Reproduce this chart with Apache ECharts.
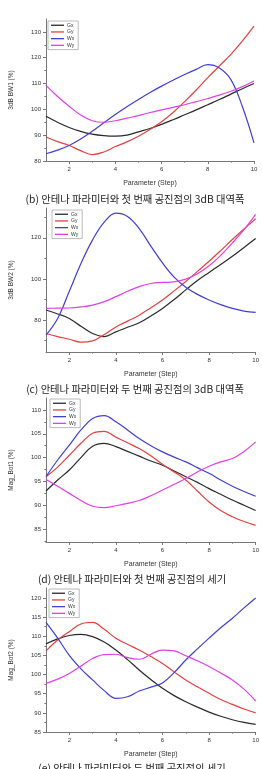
<!DOCTYPE html>
<html>
<head>
<meta charset="utf-8">
<script src="https://cdn.jsdelivr.net/npm/echarts@6/dist/echarts.min.js"></script>
<style>
  html, body { margin: 0; padding: 0; background: #fff; }
  #chart { width: 262px; height: 769px; }
</style>
</head>
<body>
<div id="chart"></div>
<script>
// parameter steps shared by all four panels
const steps = [1, 1.5, 2, 2.5, 3, 3.5, 4, 4.5, 5, 5.5, 6, 6.5, 7, 7.5, 8, 8.5, 9, 9.5, 10];
const seriesNames = ['Gx', 'Gy', 'Wx', 'Wy'];
const xTicks = [2, 4, 6, 8, 10];
const xMinor = [3, 5, 7, 9];

// (b) 3dB BW1
const bw1Gx = [97.3, 95, 93, 91.5, 90.4, 89.8, 89.6, 90, 91.3, 92.6, 94.2, 96, 97.9, 99.8, 101.8, 103.8, 105.9, 108, 110];
const bw1Gy = [89.3, 87.5, 86, 84, 82.5, 83.5, 85.6, 87.4, 89.6, 92.2, 95.2, 98.8, 103, 107.5, 112.3, 116.8, 121.3, 126.5, 132.2];
const bw1Wx = [82.8, 84.2, 86, 88.5, 91.5, 94.8, 98, 101, 103.8, 106.5, 109, 111.3, 113.5, 115.5, 117.3, 116, 111.5, 101, 87];
const bw1Wy = [109.3, 105, 101.2, 97.8, 95.6, 95, 95.6, 96.6, 97.6, 98.8, 99.8, 100.8, 101.8, 103, 104.2, 105.5, 107, 108.8, 111];
const bw1Ticks = [80, 90, 100, 110, 120, 130];
const bw1Minor = [85, 95, 105, 115, 125];

// (c) 3dB BW2
const bw2Gx = [84.9, 83, 80.8, 77, 73.5, 72, 74.3, 76.5, 78.7, 82, 85.7, 90, 94.7, 99.3, 103.2, 107, 111, 115.3, 119.7];
const bw2Gy = [73.5, 72, 70.7, 69.3, 69.9, 73, 76.7, 79.5, 82.4, 86, 89.8, 94.2, 98.8, 103.7, 108.6, 113.8, 119.2, 124.3, 129.3];
const bw2Wx = [72.7, 80.8, 94, 107.5, 119, 127.6, 132, 130.4, 124.5, 116, 107.8, 100.9, 96, 92.5, 89.8, 87.5, 85.7, 84.4, 83.8];
const bw2Wy = [85.7, 85.8, 85.9, 86.4, 87.3, 89, 91.4, 94, 96.3, 97.8, 98.3, 98.6, 99.9, 102.5, 106.4, 111.5, 117.5, 124, 131.4];
const bw2Ticks = [80, 100, 120];
const bw2Minor = [70, 90, 110, 130];

// (d) Mag_Bot1
const mb1Gx = [93, 95.3, 97.4, 100, 102.4, 103, 102.3, 101.3, 100.3, 99.3, 98.4, 97.2, 96, 94.8, 93.5, 92.3, 91.1, 90, 88.9];
const mb1Gy = [96, 98, 100.5, 103, 105.1, 105.5, 104.3, 103.1, 101.9, 100.4, 98.6, 97, 95.3, 93, 90.7, 88.9, 87.6, 86.6, 85.8];
const mb1Wx = [96, 99.5, 102.6, 105.8, 108.2, 108.8, 107.5, 105.8, 104, 102.5, 101.2, 100.1, 99.1, 97.9, 96.7, 95.3, 94, 92.9, 91.9];
const mb1Wy = [95.4, 94, 92.5, 91, 89.8, 89.5, 89.9, 90.4, 91, 92, 93.2, 94.4, 95.6, 97, 98.2, 99.1, 99.8, 101.3, 103.3];
const mb1Ticks = [85, 90, 95, 100, 105, 110];
const mb1Minor = [82.5, 87.5, 92.5, 97.5, 102.5, 107.5];

// (e) Mag_Bot2
const mb2Gx = [108, 109.3, 110.2, 110.5, 109.9, 108.5, 106.4, 103.9, 101.2, 98.7, 96.4, 94.5, 92.9, 91.5, 90.2, 89.1, 88.2, 87.5, 87];
const mb2Gy = [106.2, 109, 111.2, 113.2, 113.6, 111.8, 109.5, 107.9, 106.4, 104.7, 102.9, 100.7, 98.6, 96.8, 95.1, 93.5, 92.2, 91, 90];
const mb2Wx = [113.6, 109.5, 105, 101.5, 98.6, 95.8, 93.8, 94.2, 95.7, 96.7, 97.8, 100.5, 103.8, 106.7, 109.5, 112.2, 114.7, 117.4, 120];
const mb2Wy = [97.7, 98.8, 100.3, 102.2, 104.2, 105.2, 105.3, 104.4, 104, 105.3, 106.4, 106.2, 104.9, 103.6, 102.1, 100.4, 98.6, 96.2, 93.1];
const mb2Ticks = [85, 90, 95, 100, 105, 110, 115, 120];
const mb2Minor = [87.5, 92.5, 97.5, 102.5, 107.5, 112.5, 117.5];

const yNames = ['3dB BW1 (%)', '3dB BW2 (%)', 'Mag_Bot1 (%)', 'Mag_Bot2 (%)'];
const captions = [
  '(b) 안테나 파라미터와 첫 번째 공진점의 3dB 대역폭',
  '(c) 안테나 파라미터와 두 번째 공진점의 3dB 대역폭',
  '(d) 안테나 파라미터와 첫 번째 공진점의 세기',
  '(e) 안테나 파라미터와 두 번째 공진점의 세기'
];

const colors = ['#2a2a2a', '#e5403f', '#3f3fd6', '#e23fe6'];
const axisColor = '#777';
const labelFont = 'Liberation Sans, Arial, sans-serif';

const panels = [
  { grid: { left: 43, top: 19, width: 211, height: 142 }, yMin: 80, yMax: 135, ticks: bw1Ticks, minor: bw1Minor,
    lines: [bw1Gx, bw1Gy, bw1Wx, bw1Wy], legend: { left: 48, top: 21 }, cap: { x: 135, y: 199 } },
  { grid: { left: 44, top: 208, width: 213, height: 144 }, yMin: 64.5, yMax: 134.5, ticks: bw2Ticks, minor: bw2Minor,
    lines: [bw2Gx, bw2Gy, bw2Wx, bw2Wy], legend: { left: 52, top: 210 }, cap: { x: 135, y: 389 } },
  { grid: { left: 44, top: 398, width: 213, height: 144 }, yMin: 82.3, yMax: 112.5, ticks: mb1Ticks, minor: mb1Minor,
    lines: [mb1Gx, mb1Gy, mb1Wx, mb1Wy], legend: { left: 50, top: 399 }, cap: { x: 132, y: 579 } },
  { grid: { left: 43, top: 588, width: 214, height: 144 }, yMin: 85, yMax: 122.6, ticks: mb2Ticks, minor: mb2Minor,
    lines: [mb2Gx, mb2Gy, mb2Wx, mb2Wy], legend: { left: 49, top: 589 }, cap: { x: 132, y: 768 } }
];

const grid = [], xAxis = [], yAxis = [], series = [], legend = [], graphic = [];

panels.forEach((p, i) => {
  grid.push(p.grid);
  // main x axis
  xAxis.push({
    type: 'value', gridIndex: i, min: 1, max: 10, position: 'bottom',
    name: 'Parameter (Step)', nameLocation: 'middle', nameGap: 19,
    nameTextStyle: { fontSize: 7, color: '#333', fontFamily: labelFont },
    axisLine: { lineStyle: { color: axisColor, width: 1 } },
    axisTick: { inside: false, length: 3, customValues: xTicks, lineStyle: { color: axisColor } },
    axisLabel: { customValues: xTicks, fontSize: 6, color: '#333', margin: 5, fontFamily: labelFont },
    splitLine: { show: false }
  });
  // minor x ticks
  xAxis.push({
    type: 'value', gridIndex: i, min: 1, max: 10, position: 'bottom',
    axisLine: { show: false },
    axisTick: { inside: false, length: 1.6, customValues: xMinor, lineStyle: { color: axisColor } },
    axisLabel: { show: false, customValues: xMinor },
    splitLine: { show: false }
  });
  yAxis.push({
    type: 'value', gridIndex: i, min: p.yMin, max: p.yMax, position: 'left',
    name: yNames[i], nameLocation: 'middle', nameGap: 31, nameRotate: 90,
    nameTextStyle: { fontSize: 6.5, color: '#333', fontFamily: labelFont },
    axisLine: { show: true, lineStyle: { color: axisColor, width: 1 } },
    axisTick: { show: true, inside: false, length: 3, customValues: p.ticks, lineStyle: { color: axisColor } },
    axisLabel: { customValues: p.ticks, fontSize: 6, color: '#333', margin: 5, fontFamily: labelFont },
    splitLine: { show: false }
  });
  yAxis.push({
    type: 'value', gridIndex: i, min: p.yMin, max: p.yMax, position: 'left',
    axisLine: { show: false },
    axisTick: { show: true, inside: false, length: 1.6, customValues: p.minor, lineStyle: { color: axisColor } },
    axisLabel: { show: false, customValues: p.minor },
    splitLine: { show: false }
  });

  p.lines.forEach((vals, k) => {
    series.push({
      name: seriesNames[k], type: 'line', xAxisIndex: i * 2, yAxisIndex: i * 2,
      data: steps.map((s, j) => [s, vals[j]]),
      smooth: 0.4, showSymbol: false, symbol: 'none',
      lineStyle: { color: colors[k], width: 1.2 },
      itemStyle: { color: colors[k] },
      z: 3 + k
    });
  });

  legend.push({
    data: seriesNames, left: p.legend.left, top: p.legend.top, orient: 'vertical',
    icon: 'rect', itemWidth: 13, itemHeight: 1.3, itemGap: 1.2,
    textStyle: { fontSize: 5, lineHeight: 5.5, color: '#333', fontFamily: labelFont, padding: [0, 0, 0, -2] },
    borderColor: '#aaa', borderWidth: 0.8, padding: [1.5, 4, 1.5, 3],
    selectedMode: false, backgroundColor: '#fff'
  });

  graphic.push({
    type: 'text', x: p.cap.x, y: p.cap.y,
    style: {
      text: captions[i], fontSize: 10.3, fill: '#222',
      fontFamily: 'Noto Sans CJK KR, sans-serif',
      textAlign: 'center', textVerticalAlign: 'middle'
    }
  });
});

const chart = echarts.init(document.getElementById('chart'), null, { renderer: 'canvas' });
chart.setOption({
  animation: false,
  backgroundColor: '#fff',
  color: colors,
  grid, xAxis, yAxis, series, legend, graphic
});
</script>
</body>
</html>
